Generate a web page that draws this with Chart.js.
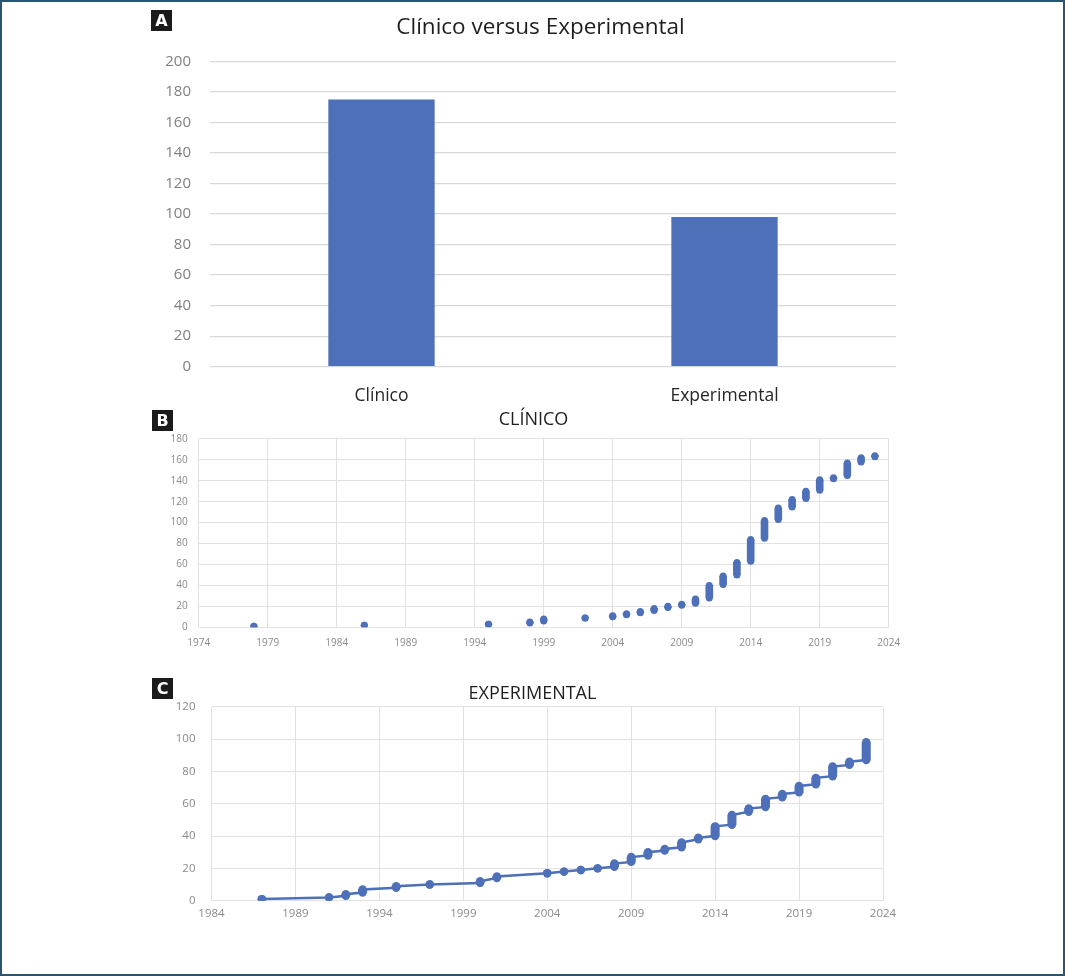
<!DOCTYPE html>
<html>
<head>
<meta charset="utf-8">
<script src="https://cdn.jsdelivr.net/npm/chart.js@4.4.1/dist/chart.umd.min.js"></script>
<style>
  html, body { margin: 0; padding: 0; background: #fff; }
  #frame { position: relative; width: 1065px; height: 976px; overflow: hidden; }
  #border { position: absolute; left: 0; top: 0; width: 1065px; height: 976px; box-sizing: border-box; border: 2px solid #2a5570; }
  canvas { position: absolute; left: 0; }
  .tag { position: absolute; width: 21px; height: 21px; background: #1b1b1b; color: #fff;
         font: bold 16px "DejaVu Sans", sans-serif; line-height: 21px; text-align: center; z-index: 5; }
</style>
</head>
<body>
<div id="frame">
  <canvas id="cA" width="1065" height="410" style="top:0px"></canvas>
  <canvas id="cB" width="1065" height="255" style="top:405px"></canvas>
  <canvas id="cC" width="1065" height="265" style="top:675px"></canvas>
  <div class="tag" style="left:151px;top:10px">A</div>
  <div class="tag" style="left:152px;top:410px">B</div>
  <div class="tag" style="left:152px;top:678px">C</div>
  <div id="border"></div>
</div>
<script>
// ---------- Panel A data ----------
const categoriesA = ['Clínico', 'Experimental'];
const valuesA = [175, 98];

// ---------- Panel B data (Clínico, cumulative by year: lowest and highest count in that year) ----------
const yearsB = [1978, 1986, 1995, 1998, 1999, 2002, 2004, 2005, 2006, 2007, 2008, 2009, 2010, 2011, 2012, 2013, 2014, 2015, 2016, 2017, 2018, 2019, 2020, 2021, 2022, 2023];
const lowB   = [1, 2, 3, 4, 6, 9, 10, 12, 14, 16, 19, 21, 23, 28, 41, 50, 63, 85, 103, 115, 123, 131, 142, 145, 158, 163];
const highB  = [1, 2, 3, 5, 8, 9, 11, 13, 15, 18, 20, 22, 27, 40, 49, 62, 84, 102, 114, 122, 130, 141, 143, 157, 162, 164];

// ---------- Panel C data (Experimental) ----------
const yearsC = [1987, 1991, 1992, 1993, 1995, 1997, 2000, 2001, 2004, 2005, 2006, 2007, 2008, 2009, 2010, 2011, 2012, 2013, 2014, 2015, 2016, 2017, 2018, 2019, 2020, 2021, 2022, 2023];
const lowC   = [1, 2, 3, 5, 8, 10, 11, 14, 17, 18, 19, 20, 21, 24, 28, 31, 33, 38, 40, 47, 55, 58, 64, 67, 72, 77, 84, 87];
const highC  = [1, 2, 4, 7, 9, 10, 12, 15, 17, 18, 19, 20, 23, 27, 30, 32, 36, 39, 46, 53, 57, 63, 66, 71, 76, 83, 86, 98];

const BLUE = '#4e70b8';
const GRID = '#e2e2e2';
const TICK = '#8a8a8a';
const FONT = '"Open Sans", "DejaVu Sans", sans-serif';

Chart.defaults.font.family = FONT;
Chart.defaults.animation = false;

function fixW(w) { return s => { s.width = w; }; }
function fixH(h) { return s => { s.height = h; }; }
// invisible right-hand spacer axis (keeps the title centred where the original has it)
function spacer(w) {
  return { position: 'right', display: true, grid: { display: false, drawTicks: false },
           border: { display: false }, ticks: { display: false }, afterFit: fixW(w) };
}

// ---------- A ----------
new Chart(document.getElementById('cA'), {
  type: 'bar',
  data: {
    labels: categoriesA,
    datasets: [{ data: valuesA, backgroundColor: BLUE, categoryPercentage: 1, barPercentage: 0.31 }]
  },
  options: {
    responsive: false,
    devicePixelRatio: 1,
    layout: { padding: { left: 160, right: 144, top: 14, bottom: 0 } },
    plugins: {
      legend: { display: false },
      tooltip: { enabled: false },
      title: { display: true, text: 'Clínico versus Experimental', color: '#1e1e1e',
               font: { size: 22.5, weight: 'normal' }, padding: { top: 0, bottom: 20.3 } }
    },
    scales: {
      x: {
        grid: { display: false, drawTicks: false },
        border: { display: false },
        ticks: { color: '#262626', font: { size: 17.5 }, padding: 18.5 },
        afterFit: fixH(43.3)
      },
      y: {
        min: 0, max: 200,
        grid: { color: '#d9d9d9', lineWidth: 1.3, drawTicks: false },
        border: { display: false },
        ticks: { stepSize: 20, color: '#808080', font: { size: 15 }, padding: 19 },
        afterFit: fixW(50)
      },
      yR: spacer(25)
    }
  }
});

// helpers building datasets from the arrays
function rangeBars(years, lo, hi, thick) {
  return { type: 'bar', data: years.map((yr, i) => ({ x: yr, y: [lo[i], hi[i]] })),
           backgroundColor: BLUE, barThickness: thick, borderWidth: 0, order: 2 };
}
function endPoints(years, lo, hi, r) {
  const pts = [];
  years.forEach((yr, i) => { pts.push({ x: yr, y: lo[i] }); pts.push({ x: yr, y: hi[i] }); });
  return { type: 'scatter', data: pts, pointRadius: r, pointBackgroundColor: BLUE,
           pointBorderWidth: 0, showLine: false, order: 1 };
}
function yearTick(v) { return String(v); }

// ---------- B ----------
new Chart(document.getElementById('cB'), {
  type: 'scatter',
  data: { datasets: [rangeBars(yearsB, lowB, highB, 7), endPoints(yearsB, lowB, highB, 3.5)] },
  options: {
    responsive: false,
    devicePixelRatio: 1,
    layout: { padding: { left: 168.7, right: 166.7, top: 3.8, bottom: 0 } },
    plugins: {
      legend: { display: false },
      tooltip: { enabled: false },
      title: { display: true, text: 'CLÍNICO', color: '#1e1e1e',
               font: { size: 18, weight: 'normal' }, padding: { top: 0, bottom: 8.5 } }
    },
    scales: {
      x: {
        type: 'linear', min: 1974, max: 2024, offset: false,
        grid: { color: GRID, drawTicks: false, offset: false },
        border: { display: false },
        ticks: { stepSize: 5, color: TICK, font: { size: 10 }, padding: 10, callback: yearTick },
        afterFit: fixH(32.7)
      },
      y: {
        min: 0, max: 180,
        grid: { color: GRID, drawTicks: false },
        border: { display: false },
        ticks: { stepSize: 20, color: TICK, font: { size: 10 }, padding: 11 },
        afterFit: fixW(30)
      },
      yR: spacer(9.6)
    }
  }
});

// ---------- C ----------
const lineC = [];
yearsC.forEach((yr, i) => { lineC.push({ x: yr, y: lowC[i] }); lineC.push({ x: yr, y: highC[i] }); });

new Chart(document.getElementById('cC'), {
  type: 'scatter',
  data: { datasets: [
    { type: 'line', data: lineC, borderColor: BLUE, borderWidth: 2.5, pointRadius: 0, fill: false, tension: 0, order: 3 },
    rangeBars(yearsC, lowC, highC, 8.4),
    endPoints(yearsC, lowC, highC, 4.2)
  ] },
  options: {
    responsive: false,
    devicePixelRatio: 1,
    layout: { padding: { left: 175.5, right: 175.5, top: 7.8, bottom: 0 } },
    plugins: {
      legend: { display: false },
      tooltip: { enabled: false },
      title: { display: true, text: 'EXPERIMENTAL', color: '#1e1e1e',
               font: { size: 18, weight: 'normal' }, padding: { top: 0, bottom: 2.3 } }
    },
    scales: {
      x: {
        type: 'linear', min: 1984, max: 2024, offset: false,
        grid: { color: GRID, drawTicks: false, offset: false },
        border: { display: false },
        ticks: { stepSize: 5, color: TICK, font: { size: 11.5 }, padding: 6.5, callback: yearTick },
        afterFit: fixH(39.3)
      },
      y: {
        min: 0, max: 120,
        grid: { color: GRID, drawTicks: false },
        border: { display: false },
        ticks: { stepSize: 20, color: TICK, font: { size: 11.5 }, padding: 16 },
        afterFit: fixW(36)
      },
      yR: spacer(6.5)
    }
  }
});
</script>
</body>
</html>
